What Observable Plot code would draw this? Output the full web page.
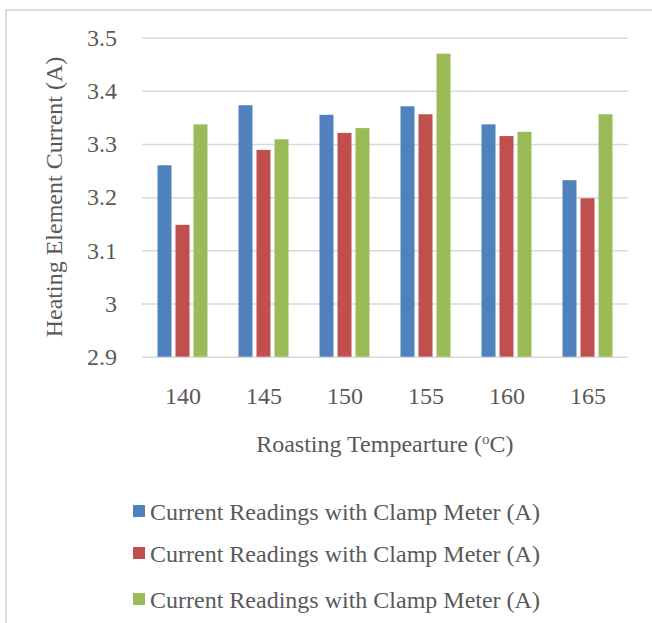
<!DOCTYPE html>
<html>
<head>
<meta charset="utf-8">
<script src="https://cdn.jsdelivr.net/npm/d3@7"></script>
<script src="https://cdn.jsdelivr.net/npm/@observablehq/plot@0.6"></script>
<style>
  html, body { margin: 0; padding: 0; background: #fff; }
  #wrap { position: relative; width: 652px; height: 623px; overflow: hidden; font-family: "Liberation Serif", "Times New Roman", serif; color: #595959; }
  #frame { position: absolute; left: 5px; top: 9px; width: 800px; height: 800px; border-left: 2px solid #dcdcdc; border-top: 2px solid #dcdcdc; }
  #chart { position: absolute; left: 0; top: 0; }
  #xtitle { position: absolute; left: 141.5px; width: 486.7px; top: 431.9px; text-align: center; font-size: 24px; line-height: 24px; white-space: nowrap; }
  #xtitle sup { font-size: 15px; vertical-align: 8px; line-height: 0; }
  #ytitle { position: absolute; left: -146px; width: 400px; top: 185px; height: 24px; text-align: center; font-size: 24px; line-height: 24px; white-space: nowrap; transform: rotate(-90deg); transform-origin: 50% 50%; }
  .leg { position: absolute; left: 133px; font-size: 24px; line-height: 24px; white-space: nowrap; }
  .leg .sw { position: absolute; left: 0; width: 12px; height: 12px; }
  .leg .tx { position: absolute; left: 17px; top: 0; }
</style>
</head>
<body>
<div id="wrap">
  <div id="frame"></div>
  <div id="chart"></div>
  <div id="ytitle"></div>
  <div id="xtitle"></div>
  <div id="legend"></div>
</div>
<script>
// Categories (x)
const temps = [140, 145, 150, 155, 160, 165];
// Series (three readings, same label in source)
const seriesKeys = ["s1", "s2", "s3"];
const seriesLabels = [
  "Current Readings with Clamp Meter (A)",
  "Current Readings with Clamp Meter (A)",
  "Current Readings with Clamp Meter (A)"
];
const seriesColors = ["#4F81BD", "#C0504D", "#9BBB59"];
const series1 = [3.260, 3.373, 3.355, 3.371, 3.337, 3.232];
const series2 = [3.148, 3.289, 3.321, 3.356, 3.315, 3.198];
const series3 = [3.337, 3.309, 3.330, 3.470, 3.323, 3.356];
// Axis ticks
const yTicks = [2.9, 3.0, 3.1, 3.2, 3.3, 3.4, 3.5];
const yTickLabels = ["2.9", "3", "3.1", "3.2", "3.3", "3.4", "3.5"];
const yTitle = "Heating Element Current (A)";
const xTitleMain = "Roasting Tempearture (";
const xTitleSup = "o";
const xTitleEnd = "C)";

const seriesValues = [series1, series2, series3];
const rows = [];
temps.forEach((t, i) => seriesKeys.forEach((k, j) => rows.push({temp: t, series: k, value: seriesValues[j][i]})));

const chart = Plot.plot({
  width: 652,
  height: 470,
  marginLeft: 141.5,
  marginRight: 23.8,
  marginTop: 37.7,
  marginBottom: 113.3,
  style: {fontFamily: "'Liberation Serif', 'Times New Roman', serif", fontSize: "24px", color: "#595959", background: "transparent", overflow: "visible"},
  facet: {data: rows, x: "temp"},
  fx: {domain: temps, padding: 0, tickSize: 0, tickPadding: 30, label: null},
  x: {domain: seriesKeys, paddingInner: 0.222, paddingOuter: 0.86, axis: null},
  y: {domain: [2.9, 3.5], ticks: yTicks, tickFormat: d => yTickLabels[yTicks.findIndex(v => Math.abs(v - d) < 1e-9)], tickSize: 0, tickPadding: 25.5, label: null},
  color: {domain: seriesKeys, range: seriesColors},
  marks: [
    Plot.ruleY(yTicks, {stroke: "#d9d9d9", strokeWidth: 1.5}),
    Plot.barY(rows, {x: "series", y1: 2.9, y2: "value", fill: "series"})
  ]
});
document.getElementById("chart").appendChild(chart);

document.getElementById("ytitle").textContent = yTitle;

const xt = document.getElementById("xtitle");
xt.appendChild(document.createTextNode(xTitleMain));
const sup = document.createElement("sup"); sup.textContent = xTitleSup; xt.appendChild(sup);
xt.appendChild(document.createTextNode(xTitleEnd));

const legTops = [505, 546.7, 592.7];
const leg = document.getElementById("legend");
seriesKeys.forEach((k, i) => {
  const d = document.createElement("div");
  d.className = "leg";
  d.style.top = (legTops[i] - 5.1) + "px";
  const sw = document.createElement("div");
  sw.className = "sw"; sw.style.background = seriesColors[i]; sw.style.top = "5.1px";
  const tx = document.createElement("div");
  tx.className = "tx"; tx.textContent = seriesLabels[i];
  d.appendChild(sw); d.appendChild(tx);
  leg.appendChild(d);
});
</script>
</body>
</html>
